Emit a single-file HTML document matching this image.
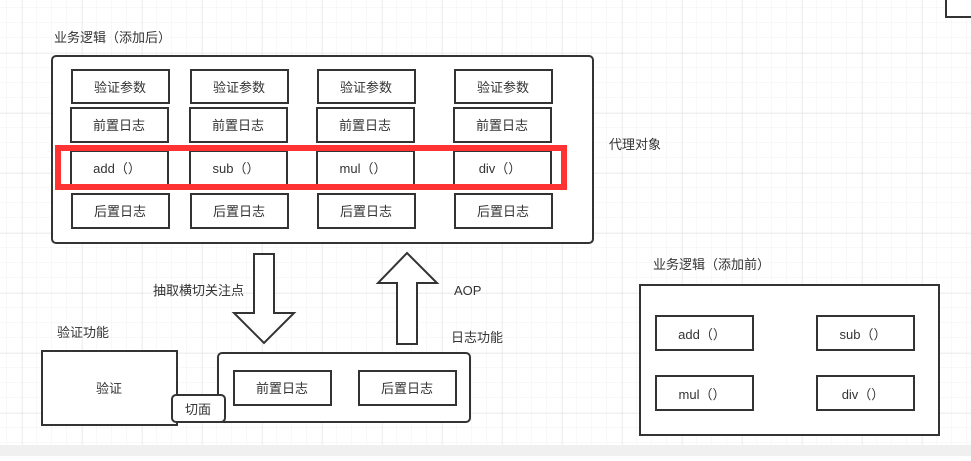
<!DOCTYPE html>
<html><head><meta charset="utf-8"><style>
body{margin:0;width:971px;height:456px;overflow:hidden;background:#fff}
svg text{font-family:"Liberation Sans","Noto Sans CJK SC",sans-serif;font-size:13px;fill:#333}
</style></head><body>
<svg width="971" height="456" xmlns="http://www.w3.org/2000/svg">
<defs>
<pattern id="g" width="15" height="15" patternUnits="userSpaceOnUse" x="7" y="8"><path d="M15 0V15M0 15H15" fill="none" stroke="#f0f0f0" stroke-width="1"/></pattern>
<pattern id="G" width="60" height="60" patternUnits="userSpaceOnUse" x="22" y="53"><path d="M0 0V60M0 0H60" fill="none" stroke="#e2e2e2" stroke-width="1"/></pattern>
</defs>
<rect width="971" height="456" fill="url(#g)"/>
<rect width="971" height="456" fill="url(#G)"/>
<rect x="0" y="445" width="971" height="11" fill="#f0f0f0"/>
<g fill="#fff" stroke="#333" stroke-width="2">
<rect x="946" y="-2" width="30" height="19"/>
<rect x="52" y="56" width="541" height="187" rx="4"/>
<rect x="72" y="70" width="97" height="33"/><rect x="191" y="70" width="97" height="33"/><rect x="318" y="70" width="97" height="33"/><rect x="455" y="70" width="97" height="33"/>
<rect x="71" y="108" width="97" height="34"/><rect x="190" y="108" width="97" height="34"/><rect x="317" y="108" width="97" height="34"/><rect x="454" y="108" width="97" height="34"/>
<rect x="71" y="151" width="97" height="34"/><rect x="190" y="151" width="97" height="34"/><rect x="317" y="151" width="97" height="34"/><rect x="454" y="151" width="97" height="34"/>
<rect x="72" y="194" width="97" height="34"/><rect x="191" y="194" width="97" height="34"/><rect x="318" y="194" width="97" height="34"/><rect x="455" y="194" width="97" height="34"/>
<polygon points="254,254 274,254 274,313 294,313 264,343 234,313 254,313"/>
<polygon points="407,253 437,283 417,283 417,344 397,344 397,283 378,283"/>
<rect x="42" y="351" width="135" height="74"/>
<rect x="218" y="353" width="252" height="69" rx="4"/>
<rect x="172" y="395" width="53" height="27" rx="4"/>
<rect x="234" y="371" width="97" height="34"/><rect x="359" y="371" width="97" height="34"/>
<rect x="640" y="285" width="299" height="150"/>
<rect x="656" y="316" width="97" height="34"/><rect x="817" y="316" width="97" height="34"/>
<rect x="656" y="376" width="97" height="34"/><rect x="817" y="376" width="97" height="34"/>
</g>
<rect x="58" y="148" width="506" height="39" fill="none" stroke="#f33" stroke-width="6"/>
<g text-anchor="middle">
<text x="120" y="92">验证参数</text><text x="239" y="92">验证参数</text><text x="366" y="92">验证参数</text><text x="503" y="92">验证参数</text>
<text x="119" y="130">前置日志</text><text x="238" y="130">前置日志</text><text x="365" y="130">前置日志</text><text x="502" y="130">前置日志</text>
<text x="117" y="173">add（）</text><text x="236" y="173">sub（）</text><text x="363" y="173">mul（）</text><text x="500" y="173">div（）</text>
<text x="120" y="216">后置日志</text><text x="239" y="216">后置日志</text><text x="366" y="216">后置日志</text><text x="503" y="216">后置日志</text>
<text x="109" y="393">验证</text>
<text x="198" y="414">切面</text>
<text x="282" y="393">前置日志</text><text x="407" y="393">后置日志</text>
<text x="702" y="339">add（）</text><text x="863" y="339">sub（）</text>
<text x="702" y="399">mul（）</text><text x="863" y="399">div（）</text>
</g>
<text x="54" y="42">业务逻辑（添加后）</text>
<text x="609" y="149">代理对象</text>
<text x="153" y="295">抽取横切关注点</text>
<text x="454" y="295">AOP</text>
<text x="57" y="337">验证功能</text>
<text x="451" y="342">日志功能</text>
<text x="653" y="269">业务逻辑（添加前）</text>
</svg>
</body></html>
